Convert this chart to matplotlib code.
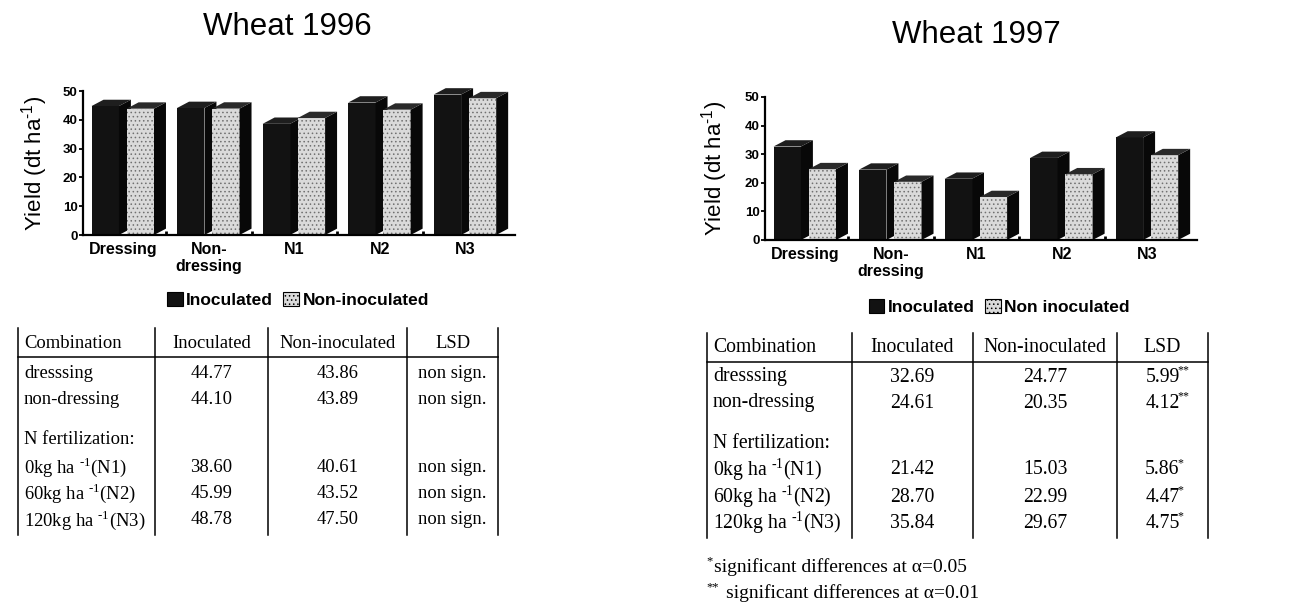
import matplotlib
matplotlib.use("Agg")
import matplotlib.pyplot as plt
from matplotlib.patches import Rectangle, Polygon

plt.rcParams['mathtext.fontset'] = 'custom'
plt.rcParams['mathtext.rm'] = 'Liberation Serif'
plt.rcParams['mathtext.sf'] = 'Liberation Sans'
plt.rcParams['hatch.linewidth'] = 0.6

# data read from the scanned page
categories = ["Dressing", "Non-\ndressing", "N1", "N2", "N3"]
inoc_1996 = [44.77, 44.10, 38.60, 45.99, 48.78]
non_1996 = [43.86, 43.89, 40.61, 43.52, 47.50]
inoc_1997 = [32.69, 24.61, 21.42, 28.70, 35.84]
non_1997 = [24.77, 20.35, 15.03, 22.99, 29.67]

SUP = "$^{\\mathrm{\u2010}\\mathrm{1}}$"
row_labels = ["dresssing", "non-dressing", "N fertilization:",
              "0kg ha " + SUP + "(N1)", "60kg ha " + SUP + "(N2)",
              "120kg ha " + SUP + "(N3)"]
lsd_1996 = ["non sign.", "non sign.", None, "non sign.", "non sign.", "non sign."]
lsd_1997 = ["5.99", "4.12", None, "5.86", "4.47", "4.75"]
stars_1997 = ["**", "**", None, "*", "*", "*"]

W, H = 1297, 603
fig = plt.figure(figsize=(W / 100, H / 100), dpi=100)
fig.patch.set_facecolor('white')


def rect(left, top, right, bottom):
    return [left / W, 1 - bottom / H, (right - left) / W, (bottom - top) / H]


def bars3d(ax, inoc, non, dx=0.14, dy=2.2):
    for i in range(len(inoc)):
        for v, a, b, front, hatch, top in [
                (inoc[i], i - 0.37, i - 0.05, '#121212', None, '#1e1e1e'),
                (non[i], i + 0.04, i + 0.36, '#dadada', '....', '#2a2a2a')]:
            ax.add_patch(Rectangle((a, 0), b - a, v, fc=front, ec='#707070',
                                   lw=0, hatch=hatch, clip_on=False))
            ax.add_patch(Polygon([(b, 0), (b + dx, dy), (b + dx, v + dy), (b, v)],
                                 fc='#080808', lw=0, clip_on=False))
            ax.add_patch(Polygon([(a, v), (a + dx, v + dy), (b + dx, v + dy), (b, v)],
                                 fc=top, lw=0, clip_on=False))


def chart(box, inoc, non, title, title_xy, ylab_x):
    ax = fig.add_axes(rect(*box))
    bars3d(ax, inoc, non)
    ax.set_ylim(0, 50)
    ax.set_xlim(-0.47, 4.58)
    for s in ['top', 'right']:
        ax.spines[s].set_visible(False)
    for s in ['left', 'bottom']:
        ax.spines[s].set_linewidth(1.6)
    ax.set_yticks(range(0, 51, 10))
    ax.set_yticklabels([str(t) for t in range(0, 51, 10)],
                       fontsize=9.5, fontweight='bold', family='Liberation Sans')
    ax.set_xticks(range(len(categories)))
    ax.set_xticklabels(categories, fontsize=11.5, fontweight='bold',
                       family='Liberation Sans', linespacing=1.15)
    ax.set_xticks([i + 0.5 for i in range(4)], minor=True)
    ax.tick_params(axis='x', which='major', length=0, pad=5)
    ax.tick_params(axis='x', which='minor', length=3, width=2, direction='in')
    ax.tick_params(axis='y', length=3, width=1.3, direction='out', pad=1)
    fig.text(title_xy[0] / W, 1 - title_xy[1] / H, title, fontsize=22.5,
             family='Liberation Sans', ha='center', va='center')
    yc = (box[1] + box[3]) / 2
    fig.text(ylab_x / W, 1 - yc / H,
             "Yield (dt ha$^{\\mathsf{\u2010}\\mathsf{1}}$)",
             fontsize=16, family='Liberation Sans', rotation=90,
             ha='center', va='center')
    return ax


chart((83, 91, 515, 235), inoc_1996, non_1996, "Wheat 1996", (287, 27), 35)
chart((765, 97, 1197, 240), inoc_1997, non_1997, "Wheat 1997", (976, 35), 715)

# legends
h_in = Rectangle((0, 0), 1, 1, fc='#121212', ec='black', lw=0.8)
h_non = Rectangle((0, 0), 1, 1, fc='#dadada', ec='black', lw=0.8, hatch='....')
for cx, cy, lab in [(298, 300, "Non-inoculated"), (999, 307, "Non inoculated")]:
    fig.legend([h_in, h_non], ["Inoculated", lab], loc='center',
               bbox_to_anchor=(cx / W, 1 - cy / H), ncol=2, frameon=False,
               handlelength=0.9, handleheight=0.9, handletextpad=0.2,
               columnspacing=0.6, borderpad=0,
               prop={'family': 'Liberation Sans', 'weight': 'bold', 'size': 12.5})

# tables drawn on an overlay in pixel coordinates
ov = fig.add_axes([0, 0, 1, 1])
ov.set_xlim(0, W)
ov.set_ylim(H, 0)
ov.axis('off')
ov.patch.set_alpha(0)


def table(vlines, y_top, y_bot, y_rule, rows_y, inoc, non, lsd, stars, fs):
    for x in vlines:
        ov.plot([x, x], [y_top, y_bot], color='black', lw=1.1)
    ov.plot([vlines[0], vlines[-1]], [y_rule, y_rule], color='black', lw=1.1)
    cen = [(vlines[i] + vlines[i + 1]) / 2 for i in range(1, 4)]
    font = dict(family='Liberation Serif', fontsize=fs, va='center')
    ov.text(vlines[0] + 6, rows_y[0], "Combination", ha='left', **font)
    for c, lab in zip(cen, ["Inoculated", "Non-inoculated", "LSD"]):
        ov.text(c, rows_y[0], lab, ha='center', **font)
    k = 0
    for r, lab in enumerate(row_labels):
        y = rows_y[r + 1]
        ov.text(vlines[0] + 6, y, lab, ha='left', **font)
        if lsd[r] is None:
            continue
        ov.text(cen[0], y, "%.2f" % inoc[k], ha='center', **font)
        ov.text(cen[1], y, "%.2f" % non[k], ha='center', **font)
        ov.text(cen[2], y, lsd[r], ha='center', **font)
        if stars is not None:
            ov.text(cen[2] + 15, y - 7, stars[r], ha='left',
                    family='Liberation Serif', fontsize=fs * 0.6, va='center')
        k += 1


table([18, 155, 268, 407, 498], 328, 535, 357,
      [343, 373, 400, 440, 467, 493, 520],
      inoc_1996, non_1996, lsd_1996, None, 13.4)
table([707, 852, 973, 1117, 1208], 333, 538, 362,
      [347, 377, 403, 443, 470, 497, 523],
      inoc_1997, non_1997, lsd_1997, stars_1997, 14.2)

foot = dict(family='Liberation Serif', fontsize=14, va='center', ha='left')
ov.text(706, 561, "*", family='Liberation Serif', fontsize=9, va='center')
ov.text(714, 567, "significant differences at \u03b1=0.05", **foot)
ov.text(706, 587, "**", family='Liberation Serif', fontsize=9, va='center')
ov.text(726, 593, "significant differences at \u03b1=0.01", **foot)

fig.savefig("out.png", dpi=100)
